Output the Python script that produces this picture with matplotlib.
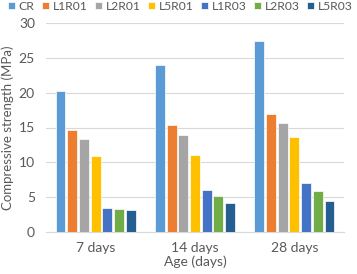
import matplotlib
matplotlib.use("Agg")
import matplotlib.pyplot as plt
import numpy as np

categories = ["7 days", "14 days", "28 days"]
series = ["CR", "L1R01", "L2R01", "L5R01", "L1R03", "L2R03", "L5R03"]
CR = [20.3, 24.0, 27.4]
L1R01 = [14.6, 15.3, 17.0]
L2R01 = [13.4, 13.9, 15.6]
L5R01 = [10.9, 11.0, 13.7]
L1R03 = [3.4, 6.1, 7.0]
L2R03 = [3.3, 5.2, 5.9]
L5R03 = [3.1, 4.1, 4.4]
values = [CR, L1R01, L2R01, L5R01, L1R03, L2R03, L5R03]
colors = ["#5B9BD5", "#ED7D31", "#A5A5A5", "#FFC000", "#4472C4", "#70AD47", "#255E91"]

plt.rcParams['font.family'] = ['Lato', 'DejaVu Sans']
fig = plt.figure(figsize=(3.57, 2.74), dpi=100)
ax = fig.add_axes([46/357, 1-232/274, 298/357, 209/274])

x = np.arange(len(categories))
pitch = 0.118
w = 0.1
for i, (name, vals, c) in enumerate(zip(series, values, colors)):
    ax.bar(x + (i - 3) * pitch, vals, width=w, color=c, label=name,
           edgecolor="white", linewidth=0.5, zorder=3)

ax.set_xlim(-0.5, 2.5)
ax.set_ylim(0, 30)
ax.set_yticks(range(0, 31, 5))
ax.set_xticks(x)
ax.set_xticklabels(categories)
ax.grid(axis='y', color="#D9D9D9", linewidth=0.8, zorder=0)
for s in ["top", "right", "left"]:
    ax.spines[s].set_visible(False)
ax.spines["bottom"].set_color("#D9D9D9")
ax.tick_params(axis='both', length=0, labelsize=10, colors="#595959")
ax.tick_params(axis='x', pad=7)
ax.tick_params(axis='y', pad=8)
ax.set_ylabel("Compressive strength (MPa)", fontsize=9.5, color="#595959", labelpad=3)
ax.set_xlabel("Age (days)", fontsize=10, color="#595959", labelpad=1)
ax.legend(ncol=7, loc="lower center", bbox_to_anchor=(0.45, 1.03), frameon=False,
          fontsize=8.7, handlelength=0.6, handleheight=0.6, handletextpad=0.3,
          columnspacing=0.6, labelcolor="#595959", borderaxespad=0)

fig.savefig("out.png", dpi=100)
